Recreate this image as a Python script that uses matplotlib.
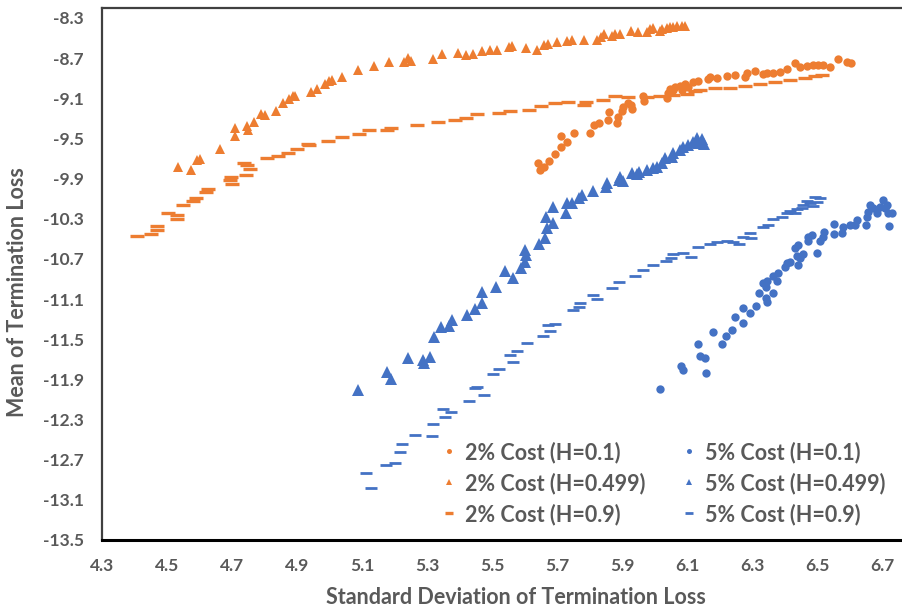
import matplotlib.pyplot as plt
import numpy as np

plt.rcParams['font.family'] = ['Lato', 'DejaVu Sans']

# 2% cost, H=0.1 (circles)
sd_2_h01 = [5.641, 5.648, 5.660, 5.676, 5.694, 5.711, 5.730, 5.713, 5.753, 5.802, 5.814, 5.828,
            5.856, 5.860, 5.884, 5.889, 5.899, 5.904, 5.919, 5.930, 5.927, 5.966, 5.968, 6.038,
            6.041, 6.048, 6.058, 6.063, 6.078, 6.084, 6.094, 6.104, 6.119, 6.135, 6.166, 6.171,
            6.191, 6.222, 6.248, 6.278, 6.286, 6.309, 6.335, 6.345, 6.366, 6.386, 6.407, 6.432,
            6.448, 6.468, 6.489, 6.503, 6.519, 6.540, 6.566, 6.591, 6.604]
mean_2_h01 = [-9.748, -9.815, -9.788, -9.722, -9.655, -9.589, -9.539, -9.476, -9.443, -9.443, -9.370, -9.350,
              -9.317, -9.234, -9.350, -9.284, -9.224, -9.190, -9.150, -9.210, -9.167, -9.078, -9.125, -9.101,
              -9.051, -9.011, -9.018, -8.985, -8.978, -9.018, -8.958, -8.991, -8.935, -8.925, -8.911, -8.885,
              -8.901, -8.878, -8.866, -8.892, -8.852, -8.826, -8.859, -8.852, -8.852, -8.836, -8.812, -8.752,
              -8.792, -8.779, -8.766, -8.769, -8.769, -8.786, -8.712, -8.736, -8.752]

# 2% cost, H=0.499 (triangles)
sd_2_h0499 = [4.535, 4.573, 4.591, 4.602, 4.663, 4.709, 4.709, 4.745, 4.748, 4.768, 4.789, 4.802,
              4.834, 4.858, 4.876, 4.887, 4.893, 4.944, 4.961, 4.985, 4.999, 5.009, 5.039, 5.089,
              5.136, 5.182, 5.229, 5.242, 5.250, 5.318, 5.346, 5.395, 5.419, 5.442, 5.470, 5.494,
              5.516, 5.552, 5.562, 5.605, 5.638, 5.660, 5.673, 5.701, 5.730, 5.745, 5.783, 5.823,
              5.835, 5.845, 5.868, 5.878, 5.894, 5.927, 5.950, 5.976, 5.986, 5.996, 6.017, 6.022,
              6.038, 6.048, 6.058, 6.068, 6.084, 6.094]
mean_2_h0499 = [-9.788, -9.818, -9.715, -9.702, -9.606, -9.399, -9.473, -9.376, -9.419, -9.340, -9.257, -9.270,
                -9.224, -9.147, -9.110, -9.075, -9.081, -9.041, -9.005, -8.961, -8.931, -8.921, -8.891, -8.822,
                -8.776, -8.739, -8.739, -8.702, -8.726, -8.706, -8.662, -8.652, -8.669, -8.659, -8.626, -8.624,
                -8.619, -8.593, -8.577, -8.597, -8.619, -8.567, -8.560, -8.540, -8.530, -8.520, -8.520, -8.520,
                -8.487, -8.460, -8.480, -8.460, -8.460, -8.427, -8.437, -8.437, -8.410, -8.403, -8.427, -8.410,
                -8.403, -8.387, -8.393, -8.377, -8.380, -8.380]

# 2% cost, H=0.9 (dashes)
sd_2_h09 = [4.407, 4.450, 4.468, 4.470, 4.504, 4.532, 4.530, 4.550, 4.579, 4.589, 4.620, 4.627,
            4.697, 4.694, 4.699, 4.737, 4.745, 4.755, 4.742, 4.809, 4.841, 4.871, 4.901, 4.935,
            4.937, 4.994, 5.038, 5.092, 5.121, 5.176, 5.188, 5.268, 5.333, 5.386, 5.420, 5.455,
            5.522, 5.555, 5.615, 5.650, 5.694, 5.735, 5.783, 5.789, 5.842, 5.878, 5.919, 5.976,
            6.017, 6.058, 6.099, 6.125, 6.140, 6.186, 6.232, 6.278, 6.325, 6.371, 6.417, 6.463,
            6.494, 6.515]
mean_2_h09 = [-10.475, -10.455, -10.373, -10.415, -10.246, -10.266, -10.303, -10.166, -10.124, -10.097, -10.037, -10.001,
              -9.881, -9.917, -9.954, -9.748, -9.768, -9.808, -9.867, -9.695, -9.678, -9.648, -9.606, -9.559,
              -9.569, -9.529, -9.489, -9.453, -9.419, -9.416, -9.399, -9.370, -9.337, -9.317, -9.300, -9.260,
              -9.244, -9.224, -9.220, -9.177, -9.147, -9.140, -9.170, -9.137, -9.121, -9.081, -9.091, -9.085,
              -9.078, -9.068, -9.058, -9.028, -9.018, -8.998, -8.998, -8.978, -8.958, -8.938, -8.918, -8.898,
              -8.878, -8.868]

# 5% cost, H=0.1 (circles)
sd_5_h01 = [6.017, 6.082, 6.089, 6.133, 6.140, 6.155, 6.158, 6.179, 6.207, 6.220, 6.238, 6.248,
            6.271, 6.273, 6.294, 6.312, 6.322, 6.333, 6.343, 6.347, 6.343, 6.347, 6.364, 6.364,
            6.376, 6.381, 6.402, 6.407, 6.417, 6.442, 6.437, 6.432, 6.442, 6.458, 6.448, 6.473,
            6.484, 6.473, 6.499, 6.509, 6.519, 6.522, 6.553, 6.552, 6.576, 6.581, 6.602, 6.617,
            6.624, 6.651, 6.653, 6.658, 6.663, 6.673, 6.684, 6.694, 6.704, 6.709, 6.719, 6.730,
            6.722, 6.716]
mean_5_h01 = [-11.996, -11.767, -11.807, -11.548, -11.664, -11.690, -11.840, -11.425, -11.551, -11.468, -11.411, -11.282,
              -11.342, -11.192, -11.236, -11.166, -11.043, -10.937, -10.977, -10.917, -11.093, -11.126, -11.043, -10.871,
              -10.917, -10.844, -10.784, -10.744, -10.728, -10.761, -10.671, -10.595, -10.562, -10.651, -10.694, -10.485,
              -10.462, -10.522, -10.638, -10.522, -10.485, -10.429, -10.356, -10.455, -10.439, -10.379, -10.363, -10.363,
              -10.313, -10.363, -10.280, -10.230, -10.163, -10.196, -10.246, -10.180, -10.114, -10.196, -10.246, -10.246,
              -10.373, -10.163]

# 5% cost, H=0.499 (triangles)
sd_5_h0499 = [5.089, 5.176, 5.189, 5.242, 5.289, 5.292, 5.309, 5.322, 5.342, 5.368, 5.377, 5.422,
              5.448, 5.468, 5.468, 5.511, 5.540, 5.566, 5.589, 5.602, 5.605, 5.602, 5.646, 5.663,
              5.670, 5.689, 5.666, 5.689, 5.728, 5.730, 5.745, 5.769, 5.776, 5.812, 5.851, 5.855,
              5.892, 5.894, 5.904, 5.930, 5.945, 5.953, 5.978, 5.996, 6.009, 6.022, 6.032, 6.053,
              6.058, 6.078, 6.089, 6.104, 6.119, 6.130, 6.135, 6.152, 6.146]
mean_5_h0499 = [-12.006, -11.830, -11.899, -11.690, -11.707, -11.740, -11.680, -11.481, -11.383, -11.369, -11.309, -11.259,
                -11.199, -11.142, -11.027, -10.983, -10.821, -10.887, -10.788, -10.734, -10.661, -10.612, -10.552, -10.495,
                -10.395, -10.340, -10.286, -10.180, -10.240, -10.146, -10.146, -10.097, -10.064, -10.024, -9.981, -9.941,
                -9.914, -9.881, -9.921, -9.848, -9.858, -9.832, -9.815, -9.798, -9.782, -9.748, -9.698, -9.682,
                -9.648, -9.616, -9.583, -9.566, -9.533, -9.499, -9.549, -9.556, -9.506]

# 5% cost, H=0.9 (dashes)
sd_5_h09 = [5.128, 5.111, 5.174, 5.202, 5.218, 5.222, 5.263, 5.314, 5.319, 5.350, 5.355, 5.374,
            5.430, 5.448, 5.453, 5.476, 5.502, 5.522, 5.566, 5.555, 5.578, 5.609, 5.658, 5.678,
            5.672, 5.695, 5.750, 5.768, 5.771, 5.812, 5.824, 5.870, 5.892, 5.941, 5.964, 5.994,
            6.035, 6.050, 6.058, 6.087, 6.113, 6.135, 6.171, 6.191, 6.222, 6.241, 6.261, 6.273,
            6.294, 6.296, 6.335, 6.350, 6.366, 6.391, 6.407, 6.432, 6.417, 6.453, 6.458, 6.489,
            6.499, 6.509, 6.494, 6.468, 6.438, 6.478]
mean_5_h09 = [-12.985, -12.836, -12.753, -12.730, -12.621, -12.547, -12.454, -12.464, -12.348, -12.195, -12.272, -12.228,
              -12.113, -11.989, -11.973, -12.056, -11.847, -11.794, -11.730, -11.657, -11.618, -11.541, -11.468, -11.415,
              -11.361, -11.344, -11.206, -11.176, -11.139, -11.063, -11.097, -10.990, -10.933, -10.867, -10.808, -10.764,
              -10.721, -10.688, -10.648, -10.638, -10.684, -10.579, -10.555, -10.532, -10.522, -10.532, -10.555, -10.479,
              -10.439, -10.495, -10.379, -10.363, -10.306, -10.286, -10.246, -10.246, -10.220, -10.196, -10.163, -10.173,
              -10.130, -10.097, -10.087, -10.120, -10.206, -10.146]

orange = '#ED7D31'
blue = '#4472C4'
grey = '#595959'

fig = plt.figure(figsize=(9.02, 6.10), dpi=100)
ax = fig.add_axes([102 / 902, 70 / 610, 800 / 902, 532 / 610])

h1, = ax.plot(sd_2_h01, mean_2_h01, 'o', color=orange, ms=6, mew=0, label='2% Cost (H=0.1)')
h2, = ax.plot(sd_2_h0499, mean_2_h0499, '^', color=orange, ms=6.5, mew=0, label='2% Cost (H=0.499)')
h3, = ax.plot(sd_2_h09, mean_2_h09, '_', color=orange, ms=9.5, mew=2.4, label='2% Cost (H=0.9)')
h4, = ax.plot(sd_5_h01, mean_5_h01, 'o', color=blue, ms=6, mew=0, label='5% Cost (H=0.1)')
h5, = ax.plot(sd_5_h0499, mean_5_h0499, '^', color=blue, ms=8, mew=0, label='5% Cost (H=0.499)')
h6, = ax.plot(sd_5_h09, mean_5_h09, '_', color=blue, ms=8.5, mew=2.0, label='5% Cost (H=0.9)')

ax.set_xlim(4.3, 4.3 + 800 / 325)
ax.set_ylim(-13.5, -13.5 + 532 / 100.4)
ax.set_xticks(np.arange(4.3, 6.75, 0.2))
ax.set_yticks(np.arange(-13.5, -8.25, 0.4))
ax.xaxis.set_major_formatter(plt.FormatStrFormatter('%.1f'))
ax.yaxis.set_major_formatter(plt.FormatStrFormatter('%.1f'))
ax.tick_params(length=0, labelsize=12.5, labelcolor=grey, pad=13)
for lab in ax.get_xticklabels() + ax.get_yticklabels():
    lab.set_fontweight('bold')

ax.spines['right'].set_visible(False)
ax.spines['left'].set_color('#404040')
ax.spines['left'].set_linewidth(1.6)
ax.spines['top'].set_color('#404040')
ax.spines['top'].set_linewidth(1.6)
ax.spines['bottom'].set_color('black')
ax.spines['bottom'].set_linewidth(2.2)

ax.set_xlabel('Standard Deviation of Termination Loss', fontsize=15.5, fontweight='bold', color=grey)
ax.set_ylabel('Mean of Termination Loss', fontsize=15.5, fontweight='bold', color=grey)
ax.xaxis.set_label_coords(0.5175, -0.088)
ax.yaxis.set_label_coords(-0.093, 0.466)

leg = ax.legend(handles=[h1, h2, h3, h4, h5, h6], ncol=2, loc='lower right',
                bbox_to_anchor=(1.004, -0.008), frameon=False, markerscale=0.6,
                handlelength=0.7, handletextpad=0.4, columnspacing=1.7, labelspacing=0.43,
                prop={'size': 15.5, 'weight': 'bold'})
for t in leg.get_texts():
    t.set_color(grey)

fig.savefig('out.png', dpi=100)
